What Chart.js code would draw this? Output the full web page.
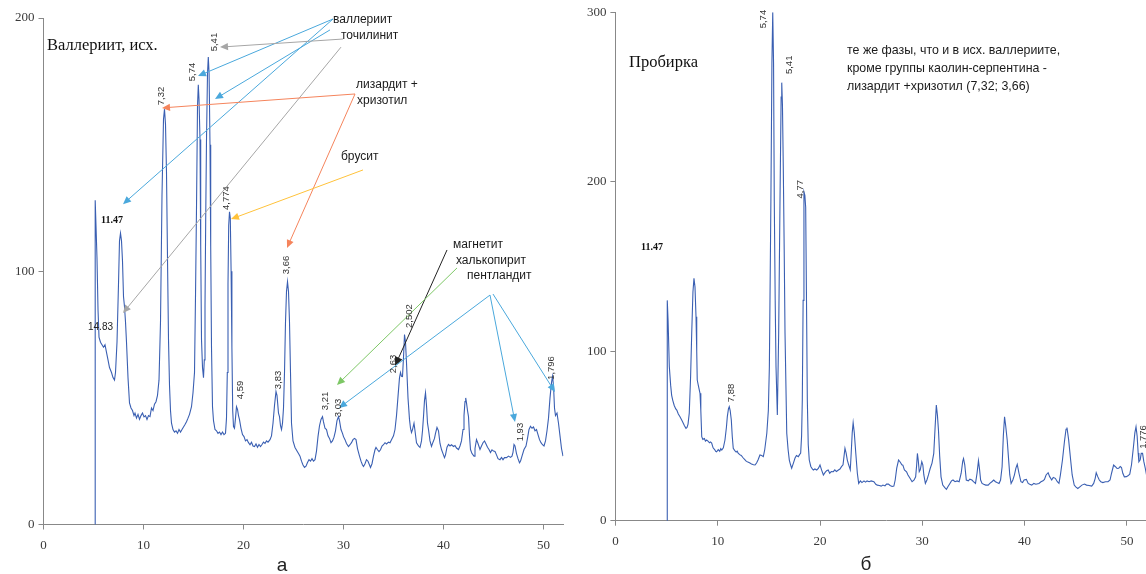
<!DOCTYPE html>
<html>
<head>
<meta charset="utf-8">
<script src="https://cdn.jsdelivr.net/npm/chart.js@4.4.1/dist/chart.umd.min.js"></script>
<style>
  html, body { margin: 0; padding: 0; background: #fff; overflow: hidden; width: 1146px; height: 574px; }
  #left { position: absolute; left: 0; top: 0; }
  #right { position: absolute; left: 580px; top: 0; }
</style>
</head>
<body>
<canvas id="left" width="580" height="574"></canvas>
<canvas id="right" width="600" height="574"></canvas>
<script>
// 2-theta (deg) / intensity
const LEFT_SCAN = [
  [5.15,0],[5.17,128],[5.25,118],[5.35,105],[5.45,85],[5.55,74],[5.7,72],[5.85,71],[6.0,70],[6.15,71],
  [6.3,68],[6.45,65],[6.6,62],[6.8,60],[6.95,58],[7.1,57],[7.2,60],[7.35,72],[7.5,95],[7.6,112],
  [7.7,115],[7.8,112],[7.9,104],[8.0,90],[8.1,86],[8.2,80],[8.3,72],[8.45,58],[8.6,48],[8.75,46],
  [8.9,45],[9.05,43],[9.15,44],[9.3,42],[9.45,43.5],[9.6,41.5],[9.75,43],[9.9,44],[10.05,42.5],[10.2,43],
  [10.35,41.5],[10.5,43],[10.65,42.6],[10.8,46],[10.95,45],[11.1,47.5],[11.25,48.5],[11.4,51],[11.55,57],[11.7,80],
  [11.85,130],[12.0,160],[12.1,164],[12.2,158],[12.3,139],[12.4,105],[12.5,73],[12.6,55],[12.7,45],[12.8,40],
  [12.95,37.5],[13.1,36.5],[13.25,37],[13.4,36],[13.55,37.5],[13.7,36.5],[13.85,37.5],[14.0,38.5],[14.15,39.5],[14.3,40.6],
  [14.45,42],[14.6,43.5],[14.8,46.5],[14.95,52],[15.1,60],[15.2,90],[15.3,125],[15.4,165],[15.48,173.6],[15.55,168],
  [15.65,152],[15.72,110],[15.8,73],[15.9,62],[16.0,58],[16.08,65],[16.15,86],[16.22,120],[16.3,152],[16.4,178],
  [16.48,184.6],[16.56,178],[16.65,150],[16.72,110],[16.8,70],[16.9,46.5],[17.0,41],[17.15,37.5],[17.3,37],[17.45,36],
  [17.6,36.5],[17.75,35.5],[17.9,36.5],[18.05,35.5],[18.2,36],[18.3,42],[18.38,60],[18.45,95],[18.52,118],[18.6,123.5],
  [18.68,121],[18.76,100],[18.84,70],[18.92,45],[19.0,38.7],[19.1,38],[19.2,42],[19.3,46.5],[19.4,45.5],[19.5,43],
  [19.6,41.4],[19.75,38],[19.9,35.5],[20.05,34.7],[20.2,33],[20.35,33.5],[20.5,32.3],[20.65,31.5],[20.8,32.5],[20.95,31],
  [21.1,30.8],[21.25,31.8],[21.4,30.5],[21.55,31.6],[21.7,30.8],[21.85,31.6],[22.0,32.5],[22.15,32],[22.3,33],[22.45,32.5],
  [22.65,33.5],[22.8,35],[22.95,40],[23.1,47],[23.25,52.5],[23.35,51],[23.5,44],[23.6,42.6],[23.7,39],[23.8,37.5],
  [23.9,40],[24.0,46],[24.1,60],[24.2,80],[24.3,92],[24.4,95.9],[24.5,92],[24.6,80],[24.7,60],[24.8,40],
  [24.95,33],[25.15,30.4],[25.35,29],[25.5,28],[25.65,27],[25.8,25],[25.95,23.5],[26.1,22.5],[26.25,23],[26.4,24.5],
  [26.55,25.6],[26.7,25],[26.85,26],[27.0,25],[27.15,25.6],[27.3,29],[27.45,34.7],[27.6,39],[27.75,41.5],[27.9,42.6],
  [28.0,40.5],[28.15,38],[28.3,37.5],[28.45,35],[28.6,34],[28.75,32.3],[28.9,33],[29.05,34.5],[29.2,37],[29.35,41],
  [29.5,42.6],[29.6,41],[29.75,37.5],[29.9,36],[30.0,34.7],[30.15,33.5],[30.3,32],[30.5,30.8],[30.65,31.5],[30.8,32.3],
  [30.95,33.5],[31.1,34],[31.25,33.5],[31.4,30],[31.6,27],[31.75,25],[31.9,23.5],[32.0,22.9],[32.15,24],[32.3,25.6],
  [32.45,25],[32.6,23.5],[32.7,22.5],[32.85,24],[33.0,27],[33.15,29.5],[33.25,30.4],[33.4,29.5],[33.55,28.8],[33.7,29.5],
  [33.85,31],[34.0,31.5],[34.15,32.3],[34.3,31.8],[34.5,32.5],[34.65,32.3],[34.8,33.5],[35.0,35],[35.15,37.5],[35.3,43],
  [35.45,50.5],[35.6,58],[35.7,60],[35.8,58.5],[35.9,58.4],[36.0,66],[36.1,75],[36.2,72],[36.3,63.9],[36.45,50],
  [36.6,41.4],[36.7,38],[36.8,36.3],[36.9,37.5],[37.05,40],[37.15,37],[37.3,32.3],[37.5,31],[37.65,30.4],[37.8,33],
  [37.9,37],[38.0,42.6],[38.1,49],[38.2,52],[38.3,47],[38.4,40],[38.5,37.5],[38.65,33],[38.8,30.8],[38.95,32.5],
  [39.1,34],[39.2,36],[39.35,38.3],[39.5,37],[39.65,32],[39.8,29.6],[39.95,28],[40.1,26.4],[40.2,27.5],[40.35,30.5],
  [40.5,31.6],[40.65,31],[40.8,31.5],[41.0,30.8],[41.15,31.2],[41.3,30.2],[41.5,29.6],[41.65,31],[41.8,33],[41.95,37.5],
  [42.05,43],[42.15,48.5],[42.22,50],[42.3,48],[42.4,45],[42.5,42.6],[42.6,35],[42.7,29.6],[42.85,28],[43.05,27],
  [43.15,30],[43.3,33.5],[43.45,32],[43.65,29.6],[43.8,31],[43.95,32.3],[44.1,33],[44.25,31.8],[44.4,30.5],[44.55,29.6],
  [44.7,28.4],[44.85,29.5],[45.0,29],[45.15,28.8],[45.3,27.5],[45.45,26],[45.65,25.6],[45.8,26.5],[45.95,25.6],[46.1,26.4],
  [46.3,26.4],[46.5,27],[46.7,26.5],[46.85,27],[46.95,28.5],[47.05,31.6],[47.15,31],[47.3,28],[47.45,26],[47.6,24.4],
  [47.7,25],[47.85,27],[48.05,29.6],[48.25,31],[48.4,34],[48.55,37.5],[48.7,38.8],[48.85,38],[49.0,38.5],[49.15,37],
  [49.3,37.5],[49.45,35.5],[49.6,33.5],[49.75,32.3],[49.9,31.5],[50.05,31],[50.2,33],[50.35,37],[50.5,42],[50.65,50],
  [50.8,56],[50.9,58.5],[51.0,55],[51.1,46],[51.2,43],[51.35,44],[51.5,40],[51.65,35],[51.8,30],[51.95,27],[52.0,27]
];

const RIGHT_SCAN = [
  [5.05,0],[5.07,130],[5.15,118],[5.27,91],[5.4,80],[5.5,74],[5.6,71.2],[5.75,68],[5.9,66],[6.0,65.3],
  [6.15,63],[6.3,61.5],[6.48,59.4],[6.6,58],[6.75,56],[6.9,54.5],[7.0,55],[7.1,57],[7.22,63.5],[7.35,85],
  [7.46,110.6],[7.58,135],[7.68,143],[7.78,138],[7.88,120.4],[7.95,100],[8.0,83],[8.1,80],[8.27,75.2],[8.35,65],
  [8.44,49.6],[8.55,48],[8.7,48.5],[8.8,47],[8.92,47.6],[9.05,47],[9.2,46],[9.3,46.5],[9.41,45.8],[9.55,43],
  [9.7,42],[9.8,41],[9.9,40.7],[10.05,42],[10.2,41],[10.3,42.5],[10.4,41.7],[10.55,43],[10.71,47.6],[10.85,55],
  [10.94,61.4],[11.05,66],[11.13,67.3],[11.22,65],[11.33,59.4],[11.42,50],[11.52,42.7],[11.65,41.5],[11.8,40.5],[11.9,41],
  [12.0,39.9],[12.15,39],[12.3,38.5],[12.5,37],[12.65,36],[12.8,35],[13.0,34.5],[13.15,34],[13.3,33.5],[13.5,33],
  [13.65,32.9],[13.8,34],[13.95,36],[14.13,38.8],[14.3,38.5],[14.46,37.8],[14.6,42],[14.8,51.6],[14.95,65],[15.05,90.9],
  [15.2,189],[15.3,270],[15.38,300],[15.46,270],[15.53,189],[15.62,130],[15.7,90.9],[15.83,62.4],[15.96,110.6],[16.09,189],
  [16.2,250],[16.26,258.5],[16.33,245],[16.41,209],[16.5,160],[16.58,110.6],[16.75,51.6],[16.88,42],[17.0,35.8],[17.12,33],
  [17.23,31],[17.4,34],[17.56,37],[17.7,38.5],[17.88,37.8],[18.0,39],[18.11,39.9],[18.2,50],[18.27,71.2],[18.35,130],
  [18.43,194],[18.52,192],[18.6,185],[18.68,130],[18.76,71.2],[18.85,45],[18.95,35.8],[19.1,32],[19.25,30.5],[19.35,29.9],
  [19.5,30.5],[19.68,29.9],[19.85,31],[20.0,32.9],[20.15,30],[20.33,27],[20.5,28.5],[20.65,29.5],[20.8,29.9],[20.95,28],
  [21.1,29],[21.3,28.9],[21.45,30],[21.6,29],[21.8,29.9],[21.95,30.5],[22.1,31.9],[22.25,33],[22.44,42.7],[22.55,40],
  [22.67,35.8],[22.8,33],[22.96,30],[23.05,40],[23.15,52],[23.24,57.8],[23.35,52],[23.5,39.7],[23.65,28],[23.78,22],
  [23.95,23.5],[24.1,22.5],[24.3,23.5],[24.45,22.8],[24.6,23.5],[24.8,23],[25.0,23.5],[25.27,23],[25.45,21.5],[25.6,21],
  [25.8,20.8],[25.98,20.4],[26.15,21],[26.35,20.5],[26.5,21.6],[26.69,21.6],[26.85,20.8],[27.05,20.2],[27.22,20.4],[27.35,24],
  [27.5,31],[27.68,35.8],[27.85,34.5],[28.0,33],[28.1,32.8],[28.25,30],[28.46,28.9],[28.6,27],[28.8,25],[29.0,23],
  [29.2,24],[29.35,25.9],[29.45,33],[29.52,39.7],[29.6,36],[29.7,28.9],[29.8,30],[29.95,34.8],[30.05,33],[30.15,27],
  [30.3,22],[30.45,24],[30.6,27],[30.77,30.8],[30.95,34],[31.12,39.7],[31.25,55],[31.37,68.2],[31.48,62],[31.58,53.4],
  [31.7,38],[31.83,25.9],[32.0,21],[32.2,19.5],[32.36,18.5],[32.5,20],[32.7,22],[32.85,23.5],[33.0,24],[33.2,23],
  [33.4,23.5],[33.6,23],[33.8,28],[33.95,35],[34.03,36.7],[34.15,33],[34.3,24],[34.5,23.5],[34.65,24.5],[34.85,24],
  [35.0,23],[35.2,22],[35.35,28],[35.49,35.4],[35.6,30],[35.7,24],[35.84,22],[36.0,21.5],[36.2,21],[36.44,21],
  [36.6,22],[36.8,23],[36.98,24],[37.15,23],[37.3,22.5],[37.5,22],[37.65,24],[37.8,31.8],[37.92,50],[38.04,61.3],
  [38.15,56],[38.3,47.5],[38.45,35],[38.55,27],[38.68,22],[38.85,24],[39.0,26.9],[39.15,31],[39.28,33.2],[39.45,28],
  [39.64,23],[39.8,22.5],[39.95,24],[40.17,24.4],[40.35,22],[40.5,21.5],[40.7,21],[40.9,22],[41.1,21.5],[41.4,22],
  [41.6,23],[41.8,23.5],[41.94,24.4],[42.1,27],[42.3,28.3],[42.45,26],[42.65,24],[42.8,25.5],[43.0,25],[43.2,23],
  [43.36,22],[43.5,27],[43.7,35.8],[43.9,47],[44.05,54],[44.14,55],[44.3,48],[44.5,35.8],[44.65,27],[44.85,21],
  [45.0,20],[45.2,19],[45.4,20],[45.6,21],[45.85,21.6],[46.05,21],[46.3,20.8],[46.56,20.4],[46.75,22],[46.9,25],
  [47.0,28.3],[47.15,26],[47.3,24],[47.45,23],[47.65,22.5],[47.9,23],[48.15,23],[48.35,24],[48.5,28],[48.7,32.8],
  [48.85,32],[49.04,30.8],[49.2,31],[49.35,32],[49.47,31.4],[49.6,28],[49.75,25.9],[49.95,26],[50.1,26.5],[50.28,27.5],
  [50.45,33],[50.64,43.6],[50.78,52],[50.89,55.4],[51.0,50],[51.1,40],[51.17,34.8],[51.3,36],[51.4,39.7],[51.53,39.7],
  [51.65,35],[51.8,30.8],[51.95,26],[52.06,23]
];

const X_TICKS = [0, 10, 20, 30, 40, 50];
const LEFT_Y_TICKS = [0, 100, 200];
const RIGHT_Y_TICKS = [0, 100, 200, 300];

// d-spacing labels: text, 2-theta, intensity (label centre)
const LEFT_PEAK_TEXT = ['7,32', '5,74', '5,41', '4,774', '3,66', '4,59', '3,83', '3,21', '3,03', '2,63', '2,502', '1,93', '1,796'];
const LEFT_PEAK_X = [11.75, 14.85, 17.05, 18.25, 24.25, 19.65, 23.45, 28.15, 29.45, 34.95, 36.55, 47.65, 50.75];
const LEFT_PEAK_Y = [169.2, 178.7, 190.5, 128.9, 102.5, 53.1, 57.1, 48.8, 46, 63.4, 82.3, 36.5, 61.8];

const RIGHT_PEAK_TEXT = ['5,74', '5,41', '4,77', '7,88', '1,776'];
const RIGHT_PEAK_X = [14.5, 17.0, 18.1, 11.3, 51.6];
const RIGHT_PEAK_Y = [296, 269, 195.6, 75.4, 49.4];

// phase names on the left scan and where their arrows point
const PHASE_TEXT = ['валлериит', 'точилинит', 'лизардит +', 'хризотил', 'брусит', 'магнетит', 'халькопирит', 'пентландит'];
const PHASE_X = [28.95, 29.75, 31.25, 31.35, 29.75, 40.95, 41.25, 42.35];
const PHASE_Y = [199.4, 192.9, 173.5, 167.2, 145.1, 110.4, 104, 98.1];

const ARROWS = [
  { from: [28.95, 199.6], to: [15.45, 177.1], color: '#4aa8dc' },
  { from: [28.65, 195.3], to: [17.15, 168.0], color: '#4aa8dc' },
  { from: [28.95, 199.6], to: [7.95, 126.5], color: '#4aa8dc' },
  { from: [29.95, 191.7], to: [17.65, 188.5], color: '#a6a6a6' },
  { from: [29.75, 188.5], to: [7.95, 83.5], color: '#a6a6a6' },
  { from: [31.15, 170.0], to: [11.85, 164.5], color: '#f5845c' },
  { from: [31.15, 170.0], to: [24.35, 109.2], color: '#f5845c' },
  { from: [31.95, 140.0], to: [18.75, 120.6], color: '#ffc23a' },
  { from: [40.35, 108.4], to: [35.15, 62.6], color: '#222222', head: 9 },
  { from: [41.35, 101.3], to: [29.35, 55.1], color: '#7dc765' },
  { from: [44.65, 90.6], to: [29.55, 46.0], color: '#4aa8dc' },
  { from: [44.65, 90.6], to: [47.15, 40.5], color: '#4aa8dc' },
  { from: [44.95, 91.0], to: [51.15, 52.3], color: '#4aa8dc' },
];

const RIGHT_NOTE = ['те же фазы, что и в исх. валлериите,', 'кроме группы каолин-серпентина -', 'лизардит +хризотил (7,32; 3,66)'];
const RIGHT_NOTE_Y = [277.7, 266.5, 255.9];

const LINE_COLOR = '#3a5fb2';
const TICK_FONT = { family: 'Liberation Serif', size: 13 };
const SANS = '"Liberation Sans", Arial, sans-serif';
const SERIF = '"Liberation Serif", "Times New Roman", serif';

function notesPlugin(getNotes) {
  return {
    id: 'notes',
    afterDraw(chart) {
      const ctx = chart.ctx;
      const xs = chart.scales.x, ys = chart.scales.y;
      const px = v => xs.getPixelForValue(v);
      const py = v => ys.getPixelForValue(v);
      const notes = getNotes();
      ctx.save();
      (notes.arrows || []).forEach(a => {
        const x1 = px(a.from[0]), y1 = py(a.from[1]);
        const x2 = px(a.to[0]), y2 = py(a.to[1]);
        const ang = Math.atan2(y2 - y1, x2 - x1);
        const len = a.head || 8;
        ctx.strokeStyle = a.color;
        ctx.fillStyle = a.color;
        ctx.lineWidth = 1;
        ctx.beginPath();
        ctx.moveTo(x1, y1);
        ctx.lineTo(x2 - Math.cos(ang) * len * 0.7, y2 - Math.sin(ang) * len * 0.7);
        ctx.stroke();
        ctx.beginPath();
        ctx.moveTo(x2, y2);
        ctx.lineTo(x2 - Math.cos(ang) * len + Math.sin(ang) * len * 0.45, y2 - Math.sin(ang) * len - Math.cos(ang) * len * 0.45);
        ctx.lineTo(x2 - Math.cos(ang) * len - Math.sin(ang) * len * 0.45, y2 - Math.sin(ang) * len + Math.cos(ang) * len * 0.45);
        ctx.closePath();
        ctx.fill();
      });
      (notes.texts || []).forEach(t => {
        ctx.save();
        ctx.font = t.font;
        ctx.fillStyle = t.color || '#222';
        ctx.textAlign = t.align || 'left';
        ctx.textBaseline = 'middle';
        ctx.translate(px(t.x), py(t.y));
        if (t.rot) ctx.rotate(-Math.PI / 2);
        ctx.fillText(t.text, 0, 0);
        ctx.restore();
      });
      ctx.restore();
    }
  };
}

function makeChart(canvas, scan, yMax, yTicks, box, notes) {
  const axisLine = { drawOnChartArea: false, drawTicks: true, tickLength: 5, color: '#888888' };
  return new Chart(canvas, {
    type: 'scatter',
    data: {
      datasets: [{
        data: scan.map(p => ({ x: p[0], y: p[1] })),
        showLine: true,
        borderColor: LINE_COLOR,
        borderWidth: 1.1,
        pointRadius: 0,
        tension: 0,
      }],
    },
    options: {
      responsive: false,
      animation: false,
      layout: { padding: box.padding },
      plugins: { legend: { display: false }, tooltip: { enabled: false } },
      scales: {
        x: {
          type: 'linear', min: 0, max: box.xMax,
          afterBuildTicks: s => { s.ticks = X_TICKS.map(v => ({ value: v })); },
          afterFit: s => { s.height = box.xH; },
          grid: axisLine,
          border: { color: '#888888' },
          ticks: { font: TICK_FONT, color: '#3a3a3a', padding: 8, maxRotation: 0 },
        },
        y: {
          min: 0, max: yMax,
          afterBuildTicks: s => { s.ticks = yTicks.map(v => ({ value: v })); },
          afterFit: s => { s.width = box.yW; },
          grid: axisLine,
          border: { color: '#888888' },
          ticks: { font: TICK_FONT, color: '#3a3a3a', padding: 4 },
        },
      },
    },
    plugins: [notesPlugin(() => notes)],
  });
}

const leftNotes = {
  arrows: ARROWS,
  texts: [
    { text: 'Валлериит, исх.', x: 0.35, y: 188.9, font: '16.5px ' + SERIF, color: '#111' },
    { text: '11.47', x: 5.75, y: 120.2, font: 'bold 10px ' + SERIF, color: '#111' },
    { text: '14.83', x: 4.45, y: 78, font: '10px ' + SANS, color: '#222' },
    { text: 'а', x: 23.85, y: -16.4, font: '19px ' + SANS, color: '#222', align: 'center' },
  ],
};
PHASE_TEXT.forEach((t, i) => leftNotes.texts.push({ text: t, x: PHASE_X[i], y: PHASE_Y[i], font: '12px ' + SANS, color: '#1a1a1a' }));
LEFT_PEAK_TEXT.forEach((t, i) => leftNotes.texts.push({ text: t, x: LEFT_PEAK_X[i], y: LEFT_PEAK_Y[i], font: '9.5px ' + SANS, color: '#333', align: 'center', rot: true }));

const rightNotes = {
  texts: [
    { text: 'Пробирка', x: 1.33, y: 270, font: '16.5px ' + SERIF, color: '#111' },
    { text: '11.47', x: 2.5, y: 161, font: 'bold 10px ' + SERIF, color: '#111' },
    { text: 'б', x: 24.5, y: -26.1, font: '19px ' + SANS, color: '#222', align: 'center' },
  ],
};
RIGHT_NOTE.forEach((t, i) => rightNotes.texts.push({ text: t, x: 22.64, y: RIGHT_NOTE_Y[i], font: '12.4px ' + SANS, color: '#1a1a1a' }));
RIGHT_PEAK_TEXT.forEach((t, i) => rightNotes.texts.push({ text: t, x: RIGHT_PEAK_X[i], y: RIGHT_PEAK_Y[i], font: '9.5px ' + SANS, color: '#333', align: 'center', rot: true }));

makeChart(document.getElementById('left'), LEFT_SCAN, 200, LEFT_Y_TICKS,
  { xMax: 52, xH: 49.5, yW: 43.5, padding: { top: 18, left: 0, right: 16.5, bottom: 0 } }, leftNotes);

makeChart(document.getElementById('right'), RIGHT_SCAN, 300, RIGHT_Y_TICKS,
  { xMax: 53, xH: 53.3, yW: 35.4, padding: { top: 12.3, left: 0, right: 22.4, bottom: 0 } }, rightNotes);
</script>
</body>
</html>
